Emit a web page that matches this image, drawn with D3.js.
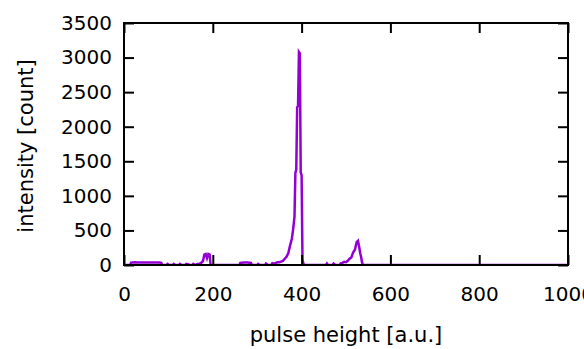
<!DOCTYPE html>
<html>
<head>
<meta charset="utf-8">
<script src="https://cdn.jsdelivr.net/npm/d3@7"></script>
<style>
  body { margin: 0; background: #fff; }
  text { font-family: "DejaVu Sans", Verdana, sans-serif; fill: #000; }
</style>
</head>
<body>
<div id="chart"></div>
<script>
const pulseHeight = [0, 14, 16, 24, 32, 40, 50, 60, 70, 80, 84, 86,
  96, 98, 102, 110, 112, 116, 124, 126, 130, 138, 140, 144, 148, 154, 156, 160,
  166, 170, 174, 178, 181, 184, 187, 190, 193, 195,
  260, 262, 270, 278, 286, 288, 300, 302, 306, 318, 320, 324, 332, 334, 338,
  342, 346, 350, 354, 358, 362, 366, 370, 374, 378, 381, 384, 386, 388, 390,
  392, 394, 396, 398, 400, 402, 404, 406, 412,
  455, 457, 459, 470, 472, 476, 486, 488, 492, 496, 500, 504, 508, 512, 516,
  520, 524, 527, 530, 532, 534, 536, 538, 1000];
const counts = [0, 0, 35, 40, 35, 35, 35, 35, 35, 35, 30, 0,
  0, 15, 0, 0, 15, 0, 0, 15, 0, 0, 15, 10, 0, 0, 15, 0,
  15, 20, 30, 60, 150, 160, 100, 160, 150, 0,
  0, 30, 35, 35, 30, 0, 0, 15, 0, 0, 20, 0, 0, 25, 20,
  30, 40, 40, 50, 60, 90, 120, 170, 280, 380, 520, 700, 1330, 1380, 2280,
  2300, 3080, 3060, 1340, 1300, 80, 20, 0, 0,
  0, 20, 0, 0, 20, 0, 0, 25, 30, 45, 40, 60, 90, 110, 180,
  220, 330, 350, 250, 170, 120, 40, 0, 0];
const xTicks = [0, 200, 400, 600, 800, 1000];
const yTicks = [0, 500, 1000, 1500, 2000, 2500, 3000, 3500];

const width = 584, height = 349;
const margin = {top: 23, right: 16, bottom: 84, left: 124};
const w = width - margin.left - margin.right;
const h = height - margin.top - margin.bottom;

const data = pulseHeight.map((p, i) => ({x: p, y: counts[i]}));

const x = d3.scaleLinear().domain([0, 1000]).range([0, w]);
const y = d3.scaleLinear().domain([0, 3500]).range([h, 0]);

const svg = d3.select('#chart')
  .append('svg')
  .attr('width', width)
  .attr('height', height);

const g = svg.append('g')
  .attr('transform', `translate(${margin.left},${margin.top})`);

g.append('clipPath').attr('id', 'clip')
  .append('rect').attr('width', w).attr('height', h);

const line = d3.line()
  .x(d => x(d.x))
  .y(d => y(d.y));

g.append('path')
  .datum(data)
  .attr('clip-path', 'url(#clip)')
  .attr('fill', 'none')
  .attr('stroke', '#9400d3')
  .attr('stroke-width', 2.5)
  .attr('d', line);

// ticks point inward, on all four sides
const tickLen = 10;
const axisStyle = sel => {
  sel.select('.domain').remove();
  sel.selectAll('.tick line').attr('stroke', '#000').attr('stroke-width', 2);
  sel.selectAll('.tick text').style('font-size', '20px').attr('fill', '#000');
};

g.append('g')
  .attr('transform', `translate(0,${h})`)
  .call(d3.axisBottom(x).tickValues(xTicks).tickSize(-tickLen).tickPadding(21).tickFormat(d3.format('d')))
  .call(axisStyle)
  .selectAll('.tick text').attr('dy', '0.75em');

g.append('g')
  .call(d3.axisTop(x).tickValues(xTicks).tickSize(-tickLen).tickFormat(''))
  .call(axisStyle);

g.append('g')
  .call(d3.axisLeft(y).tickValues(yTicks).tickSize(-tickLen).tickPadding(12).tickFormat(d3.format('d')))
  .call(axisStyle);

g.append('g')
  .attr('transform', `translate(${w},0)`)
  .call(d3.axisRight(y).tickValues(yTicks).tickSize(-tickLen).tickFormat(''))
  .call(axisStyle);

g.append('rect')
  .attr('width', w)
  .attr('height', h)
  .attr('fill', 'none')
  .attr('stroke', '#000')
  .attr('stroke-width', 2);

svg.append('text')
  .attr('x', margin.left + w / 2)
  .attr('y', 342)
  .attr('text-anchor', 'middle')
  .style('font-size', '21px')
  .text('pulse height [a.u.]');

svg.append('text')
  .attr('transform', `translate(33,${margin.top + h / 2 + 2}) rotate(-90)`)
  .attr('text-anchor', 'middle')
  .style('font-size', '21px')
  .text('intensity [count]');
</script>
</body>
</html>
